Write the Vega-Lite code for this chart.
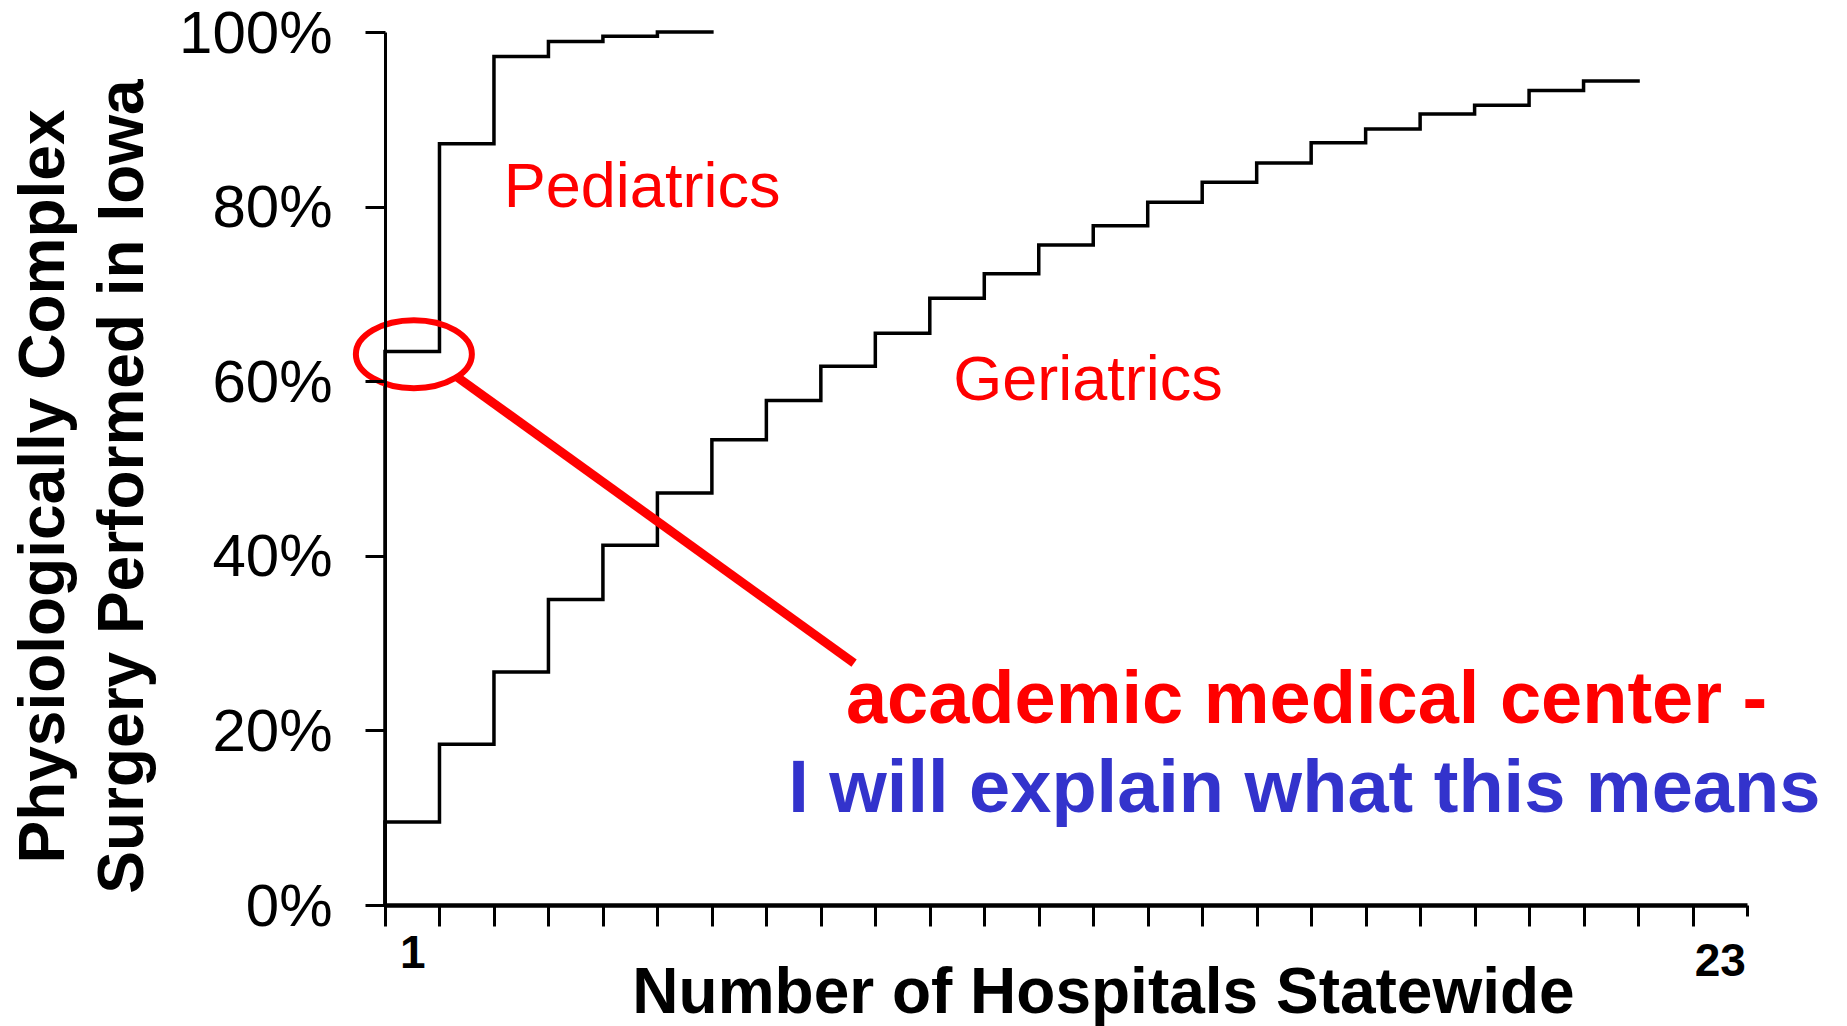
{
  "$schema": "https://vega.github.io/schema/vega-lite/v6.json",
  "autosize": {"type": "none"},
  "padding": {"left": 385, "top": 32, "right": 100, "bottom": 121},
  "width": 1362,
  "height": 873,
  "background": "white",
  "config": {
    "view": {"stroke": null},
    "font": "Liberation Sans",
    "axis": {"grid": false}
  },
  "datasets": {
    "curves": [
      {"group": "Pediatrics", "hospitals": 0, "share": 0},
      {"group": "Pediatrics", "hospitals": 1, "share": 63.4},
      {"group": "Pediatrics", "hospitals": 2, "share": 87.2},
      {"group": "Pediatrics", "hospitals": 3, "share": 97.2},
      {"group": "Pediatrics", "hospitals": 4, "share": 98.9},
      {"group": "Pediatrics", "hospitals": 5, "share": 99.5},
      {"group": "Pediatrics", "hospitals": 6, "share": 100},
      {"group": "Geriatrics", "hospitals": 0, "share": 0},
      {"group": "Geriatrics", "hospitals": 1, "share": 9.5},
      {"group": "Geriatrics", "hospitals": 2, "share": 18.4},
      {"group": "Geriatrics", "hospitals": 3, "share": 26.7},
      {"group": "Geriatrics", "hospitals": 4, "share": 35.0},
      {"group": "Geriatrics", "hospitals": 5, "share": 41.2},
      {"group": "Geriatrics", "hospitals": 6, "share": 47.2},
      {"group": "Geriatrics", "hospitals": 7, "share": 53.3},
      {"group": "Geriatrics", "hospitals": 8, "share": 57.8},
      {"group": "Geriatrics", "hospitals": 9, "share": 61.7},
      {"group": "Geriatrics", "hospitals": 10, "share": 65.5},
      {"group": "Geriatrics", "hospitals": 11, "share": 69.5},
      {"group": "Geriatrics", "hospitals": 12, "share": 72.3},
      {"group": "Geriatrics", "hospitals": 13, "share": 75.6},
      {"group": "Geriatrics", "hospitals": 14, "share": 77.8},
      {"group": "Geriatrics", "hospitals": 15, "share": 80.5},
      {"group": "Geriatrics", "hospitals": 16, "share": 82.8},
      {"group": "Geriatrics", "hospitals": 17, "share": 85.0},
      {"group": "Geriatrics", "hospitals": 18, "share": 87.3},
      {"group": "Geriatrics", "hospitals": 19, "share": 88.9},
      {"group": "Geriatrics", "hospitals": 20, "share": 90.6},
      {"group": "Geriatrics", "hospitals": 21, "share": 91.6},
      {"group": "Geriatrics", "hospitals": 22, "share": 93.3},
      {"group": "Geriatrics", "hospitals": 23, "share": 94.4}
    ],
    "labels": [
      {"kind": "series", "text": "Pediatrics", "hospitals": 2.18, "share": 79.9},
      {"kind": "series", "text": "Geriatrics", "hospitals": 10.43, "share": 57.85},
      {"kind": "callout", "text": "academic medical center -", "hospitals": 8.46, "share": 20.9},
      {"kind": "explain", "text": "I will explain what this means", "hospitals": 7.4, "share": 10.6}
    ],
    "highlight": [
      {"hospitals": 0.53, "share": 63.1, "hospitals2": 1.32, "share_from": 60.5, "hospitals_end": 8.61, "share_end": 27.7}
    ]
  },
  "layer": [
    {
      "data": {"name": "curves"},
      "mark": {"type": "line", "interpolate": "step-before", "color": "black", "strokeWidth": 3.5, "strokeCap": "square"},
      "encoding": {
        "x": {
          "field": "hospitals", "type": "quantitative",
          "scale": {"domain": [0, 25], "nice": false, "zero": false},
          "axis": {
            "values": [0, 1, 2, 3, 4, 5, 6, 7, 8, 9, 10, 11, 12, 13, 14, 15, 16, 17, 18, 19, 20, 21, 22, 23, 24, 25, 0.5, 24.5],
            "labelExpr": "datum.value == 0.5 ? '1' : (datum.value == 24.5 ? '23' : '')",
            "labelOverlap": false,
            "labelFlush": false,
            "labelBound": false,
            "labelFontSize": 46,
            "labelFontWeight": "bold",
            "labelColor": "black",
            "labelAlign": "center",
            "labelBaseline": "alphabetic",
            "labelPadding": {"condition": {"test": "datum.value == 24.5", "value": 49}, "value": 41},
            "tickOpacity": {"condition": {"test": "datum.value % 1 != 0", "value": 0}, "value": 1},
            "tickSize": {"condition": {"test": "datum.value == 25", "value": 11}, "value": 21},
            "tickColor": "black",
            "tickWidth": 3,
            "domainColor": "black",
            "domainWidth": 4.5,
            "title": "Number of Hospitals Statewide",
            "titleFontSize": 64,
            "titleFontWeight": "bold",
            "titleColor": "black",
            "titleX": 718,
            "titleY": 107,
            "titleAlign": "center",
            "titleBaseline": "alphabetic",
            "zindex": 1
          }
        },
        "y": {
          "field": "share", "type": "quantitative",
          "scale": {"domain": [0, 100], "nice": false},
          "axis": {
            "values": [0, 20, 40, 60, 80, 100],
            "labelExpr": "datum.value + '%'",
            "labelFontSize": 60,
            "labelColor": "black",
            "labelPadding": 33,
            "labelBaseline": "middle",
            "labelOffset": 2,
            "tickSize": 20,
            "tickWidth": 3,
            "tickColor": "black",
            "domainColor": "black",
            "domainWidth": 3,
            "title": ["Physiologically Complex", "Surgery Performed in Iowa"],
            "titleFontSize": 64,
            "titleFontWeight": "bold",
            "titleColor": "black",
            "titleLineHeight": 79,
            "titleAngle": 270,
            "titleAlign": "center",
            "titleBaseline": "alphabetic",
            "titleX": -322,
            "titleY": 454,
            "zindex": 1
          }
        },
        "detail": {"field": "group"}
      }
    },
    {
      "data": {"name": "highlight"},
      "mark": {
        "type": "point",
        "shape": "M -1 0 A 1 0.586 0 1 1 1 0 A 1 0.586 0 1 1 -1 0 Z",
        "size": 13456,
        "filled": false,
        "stroke": "#ff0000",
        "strokeWidth": 6,
        "opacity": 1
      },
      "encoding": {
        "x": {"field": "hospitals", "type": "quantitative"},
        "y": {"field": "share", "type": "quantitative"}
      }
    },
    {
      "data": {"name": "highlight"},
      "mark": {"type": "rule", "color": "#ff0000", "strokeWidth": 9, "strokeCap": "butt"},
      "encoding": {
        "x": {"field": "hospitals2", "type": "quantitative"},
        "y": {"field": "share_from", "type": "quantitative"},
        "x2": {"field": "hospitals_end"},
        "y2": {"field": "share_end"}
      }
    },
    {
      "data": {"name": "labels"},
      "transform": [{"filter": "datum.kind == 'series'"}],
      "mark": {"type": "text", "align": "left", "baseline": "alphabetic", "fontSize": 63, "color": "#ff0000", "font": "Liberation Sans"},
      "encoding": {
        "x": {"field": "hospitals", "type": "quantitative"},
        "y": {"field": "share", "type": "quantitative"},
        "text": {"field": "text"}
      }
    },
    {
      "data": {"name": "labels"},
      "transform": [{"filter": "datum.kind == 'callout'"}],
      "mark": {"type": "text", "align": "left", "baseline": "alphabetic", "fontSize": 74, "fontWeight": "bold", "color": "#ff0000", "font": "Liberation Sans"},
      "encoding": {
        "x": {"field": "hospitals", "type": "quantitative"},
        "y": {"field": "share", "type": "quantitative"},
        "text": {"field": "text"}
      }
    },
    {
      "data": {"name": "labels"},
      "transform": [{"filter": "datum.kind == 'explain'"}],
      "mark": {"type": "text", "align": "left", "baseline": "alphabetic", "fontSize": 74, "fontWeight": "bold", "color": "#3333cc", "font": "Liberation Sans"},
      "encoding": {
        "x": {"field": "hospitals", "type": "quantitative"},
        "y": {"field": "share", "type": "quantitative"},
        "text": {"field": "text"}
      }
    }
  ]
}
